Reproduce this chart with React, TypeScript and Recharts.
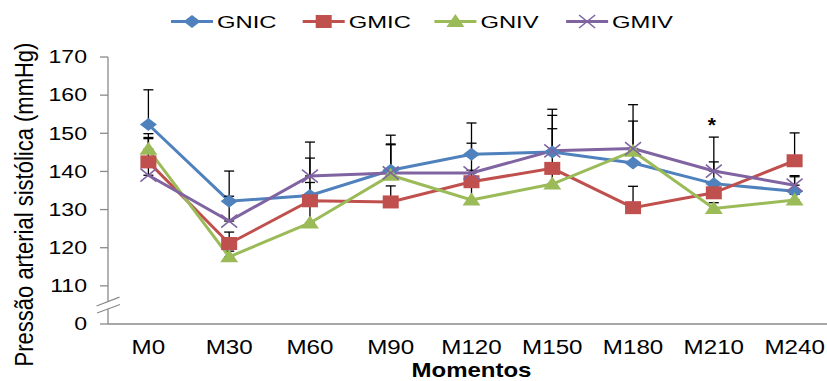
import React from "react";
import { LineChart, Line, XAxis, YAxis, ErrorBar, Legend, LabelList } from "recharts";

// ---------- data ----------
const categories = ["M0", "M30", "M60", "M90", "M120", "M150", "M180", "M210", "M240"];
const seriesNames = ["GNIC", "GMIC", "GNIV", "GMIV"];

const gnic = [152.3, 132.2, 133.7, 140.3, 144.5, 145.1, 142.2, 136.8, 134.8];
const gmic = [142.5, 121.1, 132.3, 132.0, 137.3, 140.8, 130.5, 134.4, 142.8];
const gniv = [145.8, 117.6, 126.5, 139.0, 132.5, 136.7, 145.3, 130.3, 132.5];
const gmiv = [139.0, 127.0, 138.8, 139.6, 139.6, 145.4, 146.0, 140.1, 136.4];

const gnicErr = [9.1, 7.9, 9.8, 9.2, 8.2, 11.2, 3.5, 5.7, 3.8];
const gmicErr = [7.4, 3.0, 4.8, 4.2, 3.0, 10.4, 5.6, 1.5, 7.3];
const gnivErr = [3.1, 1.5, 5.5, 8.0, 4.5, 5.0, 7.9, 1.5, 1.5];
const gmivErr = [9.6, 6.5, 8.9, 7.6, 7.8, 9.3, 11.5, 8.9, 2.5];

const sigMarks = ["", "", "", "", "", "", "", "*", ""];

const yTicks = [100, 110, 120, 130, 140, 150, 160, 170];
const yTickLabels = ["0", "110", "120", "130", "140", "150", "160", "170"];

const yTitle = "Pressão arterial sistólica (mmHg)";
const xTitle = "Momentos";

// ---------- styles ----------
const FONT = "'Liberation Sans', Arial, sans-serif";
const AXIS_GRAY = "#8a8a8a";
const seriesStyle: Record<string, { color: string; shape: string }> = {
  GNIC: { color: "#4F81BD", shape: "diamond" },
  GMIC: { color: "#C0504D", shape: "square" },
  GNIV: { color: "#9BBB59", shape: "triangle" },
  GMIV: { color: "#8064A2", shape: "x" },
};

const valuesByName: Record<string, number[]> = { GNIC: gnic, GMIC: gmic, GNIV: gniv, GMIV: gmiv };
const errByName: Record<string, number[]> = { GNIC: gnicErr, GMIC: gmicErr, GNIV: gnivErr, GMIV: gmivErr };

const data = categories.map((cat, i) => {
  const row: any = { cat, sig: sigMarks[i] };
  let top = -Infinity;
  seriesNames.forEach((n) => {
    row[n] = valuesByName[n][i];
    row[n + "_err"] = [0, errByName[n][i]];
    top = Math.max(top, valuesByName[n][i] + errByName[n][i]);
  });
  row.sigY = sigMarks[i] ? top : null;
  return row;
});

function Marker({ shape, cx, cy, color }: any) {
  if (cx == null || cy == null || isNaN(cx) || isNaN(cy)) return null;
  switch (shape) {
    case "diamond":
      return <polygon points={`${cx},${cy - 6.5} ${cx + 8.5},${cy} ${cx},${cy + 6.5} ${cx - 8.5},${cy}`} fill={color} />;
    case "square":
      return <rect x={cx - 8} y={cy - 6.5} width={16} height={13} fill={color} />;
    case "triangle":
      return <polygon points={`${cx},${cy - 7.5} ${cx + 9},${cy + 5.5} ${cx - 9},${cy + 5.5}`} fill={color} />;
    case "x":
      return (
        <g stroke={color} strokeWidth={1.6}>
          <line x1={cx - 8} y1={cy - 6.5} x2={cx + 8} y2={cy + 6.5} />
          <line x1={cx - 8} y1={cy + 6.5} x2={cx + 8} y2={cy - 6.5} />
        </g>
      );
    default:
      return null;
  }
}

function SText({ x, y, sx, children, ...rest }: any) {
  return (
    <text transform={`translate(${x},${y}) scale(${sx},1)`} x={0} y={0} fontFamily={FONT} {...rest}>
      {children}
    </text>
  );
}

const renderLegend = () => (
  <svg width={827} height={40} style={{ position: "absolute", left: 0, top: 0, overflow: "visible" }}>
    {seriesNames.map((n, i) => {
      const x0 = 171 + i * 131.7;
      const st = seriesStyle[n];
      return (
        <g key={n}>
          <line x1={x0} x2={x0 + 42} y1={21.5} y2={21.5} stroke={st.color} strokeWidth={3} />
          <Marker shape={st.shape} cx={x0 + 21} cy={21.5} color={st.color} />
          <SText x={x0 + 46} y={28} sx={1.4} fontSize={17} fill="#000">
            {n}
          </SText>
        </g>
      );
    })}
  </svg>
);

const YTick = (props: any) => {
  const { x, y, payload } = props;
  const idx = yTicks.indexOf(payload.value);
  const label = idx >= 0 ? yTickLabels[idx] : String(payload.value);
  const ax = x + 21; // axis line x
  return (
    <g>
      {payload.value === yTicks[0] && (
        <g>
          <polygon
            points={`${ax - 11},${y - 18} ${ax + 11},${y - 26.5} ${ax + 11},${y - 19.5} ${ax - 11},${y - 11}`}
            fill="#fff"
          />
          <line x1={ax - 11.5} y1={y - 18} x2={ax + 11.5} y2={y - 26.8} stroke={AXIS_GRAY} strokeWidth={1.3} />
          <line x1={ax - 11} y1={y - 11} x2={ax + 12} y2={y - 19.5} stroke={AXIS_GRAY} strokeWidth={1.3} />
        </g>
      )}
      <SText x={x} y={y + 6.3} sx={1.32} fontSize={17.5} textAnchor="end" fill="#000">
        {label}
      </SText>
    </g>
  );
};

const XTick = (props: any) => {
  const { x, y, payload } = props;
  return (
    <SText x={x} y={y + 30} sx={1.24} fontSize={19.5} textAnchor="middle" fill="#000">
      {payload.value}
    </SText>
  );
};

const renderXTitle = (props: any) => {
  const vb = props.viewBox || {};
  return (
    <SText x={vb.x + vb.width / 2} y={vb.y + 53} sx={1.2} fontSize={20} fontWeight="bold" textAnchor="middle" fill="#000">
      {xTitle}
    </SText>
  );
};

const renderYTitle = (props: any) => {
  const vb = props.viewBox || {};
  const cy = vb.y + vb.height / 2 + 14;
  return (
    <text
      transform={`translate(33,${cy}) scale(1.14,1) rotate(-90)`}
      x={0}
      y={0}
      fontFamily={FONT}
      fontSize={22}
      textAnchor="middle"
      fill="#000"
    >
      {yTitle}
    </text>
  );
};

const renderSig = (props: any) => {
  const { x, y, value } = props;
  if (!value || x == null || y == null) return null;
  return (
    <text x={x - 2} y={y - 5} fontFamily={FONT} fontSize={21} fontWeight="bold" textAnchor="middle" fill="#000">
      {value}
    </text>
  );
};

export default function App() {
  return (
    <div style={{ position: "absolute", left: 0, top: 0, width: 827, height: 381, overflow: "hidden", background: "#fff" }}>
      <LineChart width={840} height={381} data={data} margin={{ top: 57, right: 5, bottom: 0, left: 0 }}>
        <Legend
          verticalAlign="top"
          content={renderLegend}
          wrapperStyle={{ left: 0, top: 0, height: 0, width: 827 }}
        />
        <XAxis
          dataKey="cat"
          height={57}
          tickLine={false}
          tickSize={0}
          tickMargin={0}
          padding={{ left: 40.4, right: 40.4 }}
          axisLine={{ stroke: AXIS_GRAY, strokeWidth: 1.3 }}
          tick={<XTick />}
          interval={0}
          label={renderXTitle}
        />
        <YAxis
          width={108}
          domain={[100, 170]}
          ticks={yTicks}
          allowDataOverflow
          tickSize={8}
          tickMargin={13}
          tickLine={{ stroke: AXIS_GRAY, strokeWidth: 1.3 }}
          axisLine={{ stroke: AXIS_GRAY, strokeWidth: 1.3 }}
          tick={<YTick />}
          interval={0}
          label={renderYTitle}
        />
        {seriesNames.map((n) => {
          const st = seriesStyle[n];
          return (
            <Line
              key={n}
              dataKey={n}
              name={n}
              stroke={st.color}
              strokeWidth={3}
              isAnimationActive={false}
              activeDot={false}
              dot={(p: any) => <Marker key={`${n}-${p.index}`} shape={st.shape} cx={p.cx} cy={p.cy} color={st.color} />}
            >
              <ErrorBar dataKey={`${n}_err`} direction="y" width={5} stroke="#000" strokeWidth={1.3} />
            </Line>
          );
        })}
        <Line
          dataKey="sigY"
          stroke="none"
          dot={false}
          activeDot={false}
          isAnimationActive={false}
          legendType="none"
        >
          <LabelList dataKey="sig" content={renderSig} />
        </Line>
      </LineChart>
    </div>
  );
}
